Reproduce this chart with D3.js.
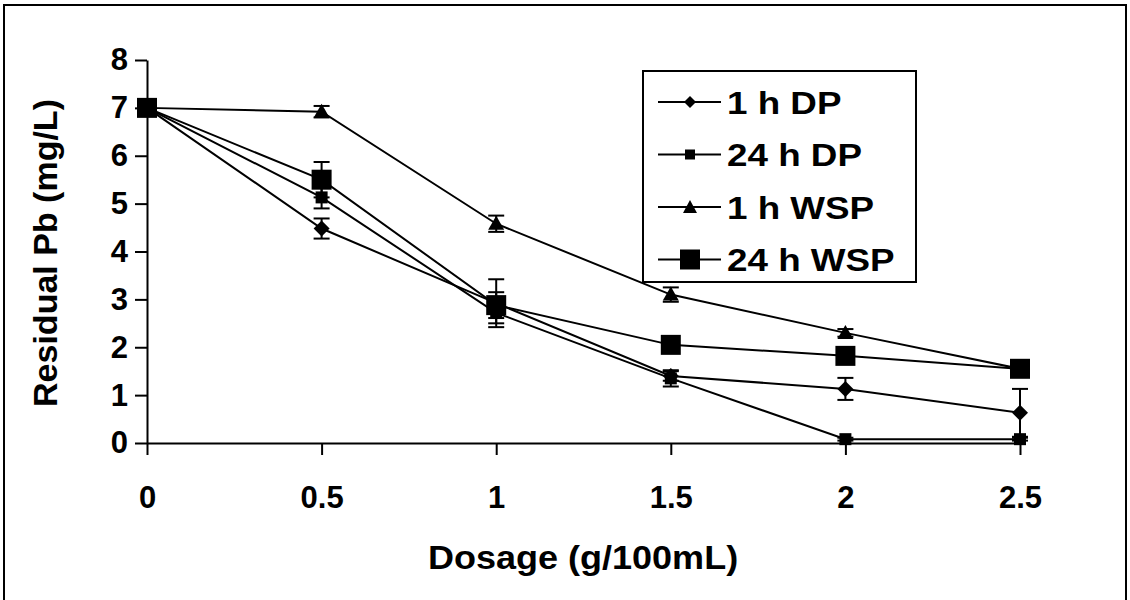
<!DOCTYPE html>
<html>
<head>
<meta charset="utf-8">
<script src="https://cdn.jsdelivr.net/npm/d3@7"></script>
<style>
  body { margin: 0; background: #fff; }
  text { font-family: "Liberation Sans", Arial, sans-serif; font-weight: bold; fill: #000; }
</style>
</head>
<body>
<div id="chart"></div>
<script>
// chart data
var dosage = [0, 0.5, 1, 1.5, 2, 2.5];
var seriesNames = ["1 h DP", "24 h DP", "1 h WSP", "24 h WSP"];
var dp1h = [7, 4.48, 2.92, 1.4, 1.13, 0.63];
var dp1hErr = [0, 0.21, 0.5, 0.1, 0.23, 0.5];
var dp24h = [7, 5.13, 2.72, 1.35, 0.08, 0.08];
var dp24hErr = [0, 0.23, 0.22, 0.17, 0.03, 0.03];
var wsp1h = [7, 6.92, 4.58, 3.1, 2.3, 1.55];
var wsp1hErr = [0, 0.12, 0.17, 0.15, 0.08, 0.05];
var wsp24h = [7, 5.5, 2.88, 2.05, 1.82, 1.55];
var wsp24hErr = [0, 0.37, 0.27, 0.05, 0.05, 0.05];
var xTicks = [0, 0.5, 1, 1.5, 2, 2.5];
var yTicks = [0, 1, 2, 3, 4, 5, 6, 7, 8];

var svgWidth = 1130;
var svgHeight = 600;

var svg = d3.select("#chart")
    .append("svg")
    .attr("width", svgWidth)
    .attr("height", svgHeight);

// outer frame
svg.append("rect")
    .attr("x", 4).attr("y", 5)
    .attr("width", 1122).attr("height", 600)
    .attr("fill", "none").attr("stroke", "#000").attr("stroke-width", 2);

var xScale = d3.scaleLinear().domain([0, 2.5]).range([147, 1020]);
var yScale = d3.scaleLinear().domain([0, 8]).range([443, 60]);

// axes
svg.append("g")
    .attr("transform", "translate(0," + yScale(0) + ")")
    .call(d3.axisBottom(xScale).tickValues(xTicks).tickSize(12).tickSizeOuter(0).tickPadding(31)
        .tickFormat(function(d) { return String(d); }));

svg.append("g")
    .attr("transform", "translate(" + xScale(0) + ",0)")
    .call(d3.axisLeft(yScale).tickValues(yTicks).tickSize(12).tickSizeOuter(0).tickPadding(7));

svg.selectAll(".domain, .tick line").attr("stroke", "#000").attr("stroke-width", 2);
svg.selectAll(".tick text").attr("font-size", 31).attr("font-family", null).attr("font-weight", null);

// axis titles, slightly widened like the original
svg.append("text")
    .attr("transform", "translate(583,569) scale(1.06,1)")
    .attr("text-anchor", "middle")
    .attr("font-size", 34)
    .text("Dosage (g/100mL)");

svg.append("text")
    .attr("transform", "translate(57,253) rotate(-90)")
    .attr("text-anchor", "middle")
    .attr("font-size", 34)
    .text("Residual Pb (mg/L)");

// marker shapes
function markerPath(kind) {
    if (kind == "diamond") return "M0,-8L8,0L0,8L-8,0Z";
    if (kind == "small") return "M-6,-6H6V6H-6Z";
    if (kind == "triangle") return "M0,-8L8,6H-8Z";
    return "M-10,-10H10V10H-10Z";
}

var series = [
    { name: seriesNames[0], values: dp1h, errs: dp1hErr, marker: "diamond" },
    { name: seriesNames[1], values: dp24h, errs: dp24hErr, marker: "small" },
    { name: seriesNames[2], values: wsp1h, errs: wsp1hErr, marker: "triangle" },
    { name: seriesNames[3], values: wsp24h, errs: wsp24hErr, marker: "big" }
];

var line = d3.line()
    .x(function(d) { return xScale(d.x); })
    .y(function(d) { return yScale(d.y); });

series.forEach(function(s) {
    var pts = dosage.map(function(x, i) { return { x: x, y: s.values[i], e: s.errs[i] }; });

    svg.append("path")
        .datum(pts)
        .attr("d", line)
        .attr("fill", "none")
        .attr("stroke", "#000")
        .attr("stroke-width", 2);

    // error bars
    var eb = svg.append("g").selectAll("g")
        .data(pts.filter(function(d) { return d.e > 0; }))
        .enter().append("g")
        .attr("stroke", "#000").attr("stroke-width", 2);
    eb.append("line")
        .attr("x1", d => xScale(d.x)).attr("x2", d => xScale(d.x))
        .attr("y1", d => yScale(d.y - d.e)).attr("y2", d => yScale(d.y + d.e));
    eb.append("line")
        .attr("x1", d => xScale(d.x) - 8).attr("x2", d => xScale(d.x) + 8)
        .attr("y1", d => yScale(d.y + d.e)).attr("y2", d => yScale(d.y + d.e));
    eb.append("line")
        .attr("x1", d => xScale(d.x) - 8).attr("x2", d => xScale(d.x) + 8)
        .attr("y1", d => yScale(d.y - d.e)).attr("y2", d => yScale(d.y - d.e));

    svg.append("g").selectAll("path")
        .data(pts)
        .enter().append("path")
        .attr("d", markerPath(s.marker))
        .attr("transform", d => "translate(" + xScale(d.x) + "," + yScale(d.y) + ")")
        .attr("fill", "#000");
});

// legend
var legend = svg.append("g");
legend.append("rect")
    .attr("x", 643).attr("y", 71)
    .attr("width", 273).attr("height", 211)
    .attr("fill", "#fff").attr("stroke", "#000").attr("stroke-width", 2);

var legendMarker = { diamond: "M0,-6L6,0L0,6L-6,0Z", small: "M-5,-5H5V5H-5Z",
    triangle: "M0,-7L7,6H-7Z", big: "M-10,-10H10V10H-10Z" };

var rows = legend.selectAll("g.row")
    .data(series)
    .enter().append("g")
    .attr("class", "row")
    .attr("transform", function(d, i) { return "translate(0," + (102 + i * 52.5) + ")"; });

rows.append("line")
    .attr("x1", 658).attr("x2", 721)
    .attr("stroke", "#000").attr("stroke-width", 2);
rows.append("path")
    .attr("d", d => legendMarker[d.marker])
    .attr("transform", "translate(690,0)")
    .attr("fill", "#000");
rows.append("text")
    .attr("transform", "translate(727,0) scale(1.15,1)")
    .attr("dy", "0.36em")
    .attr("font-size", 32)
    .text(d => d.name);
</script>
</body>
</html>
